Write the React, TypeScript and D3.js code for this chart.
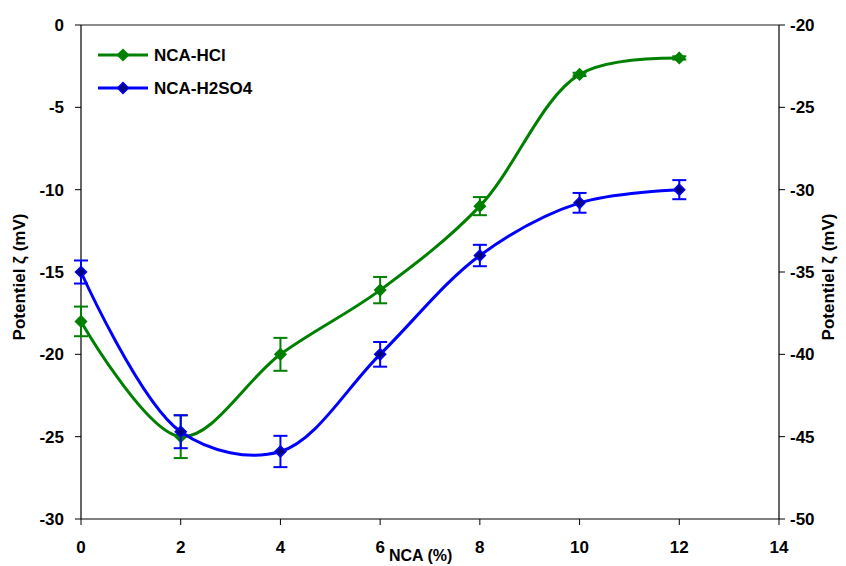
import React from "react";
import * as d3 from "d3";

const xValues = [0, 2, 4, 6, 8, 10, 12];
const hclValues = [-18, -25, -20, -16.1, -11, -3, -2];
const hclErrors = [0.9, 1.3, 1.0, 0.8, 0.55, 0.1, 0.1];
const h2so4Values = [-15, -24.7, -25.9, -20, -14, -10.8, -10];
const h2so4Errors = [0.7, 1.0, 0.95, 0.75, 0.65, 0.6, 0.58];
const xTicks = [0, 2, 4, 6, 8, 10, 12, 14];
const leftTicks = [0, -5, -10, -15, -20, -25, -30];
const rightTicks = [-20, -25, -30, -35, -40, -45, -50];

const W = 846, H = 566;
const L = 81, R = 779, T = 25, B = 519;

export default function App() {
  const x = d3.scaleLinear().domain([0, 14]).range([L, R]);
  const yL = d3.scaleLinear().domain([-30, 0]).range([B, T]);
  const yR = d3.scaleLinear().domain([-50, -20]).range([B, T]);
  const line = d3
    .line<[number, number]>()
    .x((d) => x(d[0]))
    .y((d) => yL(d[1]))
    .curve(d3.curveCatmullRom.alpha(0.5));

  const series = [
    { name: "NCA-HCl", vals: hclValues, errs: hclErrors, color: "#008000", fill: "#008000" },
    { name: "NCA-H2SO4", vals: h2so4Values, errs: h2so4Errors, color: "#0000ff", fill: "#000080" },
  ];
  const font = "Liberation Sans, Arial, sans-serif";
  const diamond = (cx: number, cy: number, r = 5.5) =>
    `M${cx},${cy - r}L${cx + r},${cy}L${cx},${cy + r}L${cx - r},${cy}Z`;

  return (
    <svg width={W} height={H} style={{ position: "absolute", left: 0, top: 0, background: "#fff" }} fontFamily={font}>
      {/* frame */}
      <line x1={L} x2={R} y1={T} y2={T} stroke="#666" strokeWidth={1.5} />
      <line x1={L} x2={R} y1={B} y2={B} stroke="#555" strokeWidth={1.5} />
      <line x1={L} x2={L} y1={T} y2={B} stroke="#000" strokeWidth={1.2} />
      <line x1={R} x2={R} y1={T} y2={B} stroke="#000" strokeWidth={1.2} />

      {/* left ticks */}
      {leftTicks.map((t) => (
        <g key={"l" + t}>
          <line x1={L - 6} x2={L} y1={yL(t)} y2={yL(t)} stroke="#000" />
          <text x={64} y={yL(t)} dy="0.36em" textAnchor="end" fontSize={17} fontWeight="bold">
            {t}
          </text>
        </g>
      ))}
      {/* right ticks */}
      {rightTicks.map((t) => (
        <g key={"r" + t}>
          <line x1={R} x2={R + 6} y1={yR(t)} y2={yR(t)} stroke="#000" />
          <text x={790} y={yR(t)} dy="0.36em" textAnchor="start" fontSize={17} fontWeight="bold">
            {t}
          </text>
        </g>
      ))}
      {/* x ticks */}
      {xTicks.map((t) => (
        <g key={"x" + t}>
          <line x1={x(t)} x2={x(t)} y1={B} y2={B + 6} stroke="#000" />
          <text x={x(t)} y={553} textAnchor="middle" fontSize={17} fontWeight="bold">
            {t}
          </text>
        </g>
      ))}
      <text x={389} y={561} textAnchor="start" fontSize={16} fontWeight="bold">
        NCA (%)
      </text>
      <text transform={`translate(25,${(T + B) / 2 + 5}) rotate(-90)`} textAnchor="middle" fontSize={17} fontWeight="bold">
        Potentiel ζ (mV)
      </text>
      <text transform={`translate(834,${(T + B) / 2 + 5}) rotate(-90)`} textAnchor="middle" fontSize={17} fontWeight="bold">
        Potentiel ζ (mV)
      </text>

      {/* series */}
      {series.map((s) => {
        const pts = xValues.map((xv, i) => [xv, s.vals[i]] as [number, number]);
        return (
          <g key={s.name}>
            <path d={line(pts) || ""} fill="none" stroke={s.color} strokeWidth={3} />
            {pts.map((p, i) => {
              const cx = x(p[0]);
              const y1 = yL(p[1] + s.errs[i]);
              const y2 = yL(p[1] - s.errs[i]);
              return (
                <g key={i}>
                  <line x1={cx} x2={cx} y1={y1} y2={y2} stroke={s.color} strokeWidth={2} />
                  <line x1={cx - 7} x2={cx + 7} y1={y1} y2={y1} stroke={s.color} strokeWidth={2} />
                  <line x1={cx - 7} x2={cx + 7} y1={y2} y2={y2} stroke={s.color} strokeWidth={2} />
                  <path d={diamond(cx, yL(p[1]))} fill={s.fill} stroke={s.color} strokeWidth={1.5} />
                </g>
              );
            })}
          </g>
        );
      })}

      {/* legend */}
      {series.map((s, i) => {
        const ly = 55 + i * 33;
        return (
          <g key={"lg" + s.name}>
            <line x1={98} x2={148} y1={ly} y2={ly} stroke={s.color} strokeWidth={3} />
            <path d={diamond(123, ly)} fill={s.fill} stroke={s.color} strokeWidth={1.5} />
            <text x={154} y={ly} dy="0.36em" fontSize={17} fontWeight="bold">
              {s.name}
            </text>
          </g>
        );
      })}
    </svg>
  );
}
